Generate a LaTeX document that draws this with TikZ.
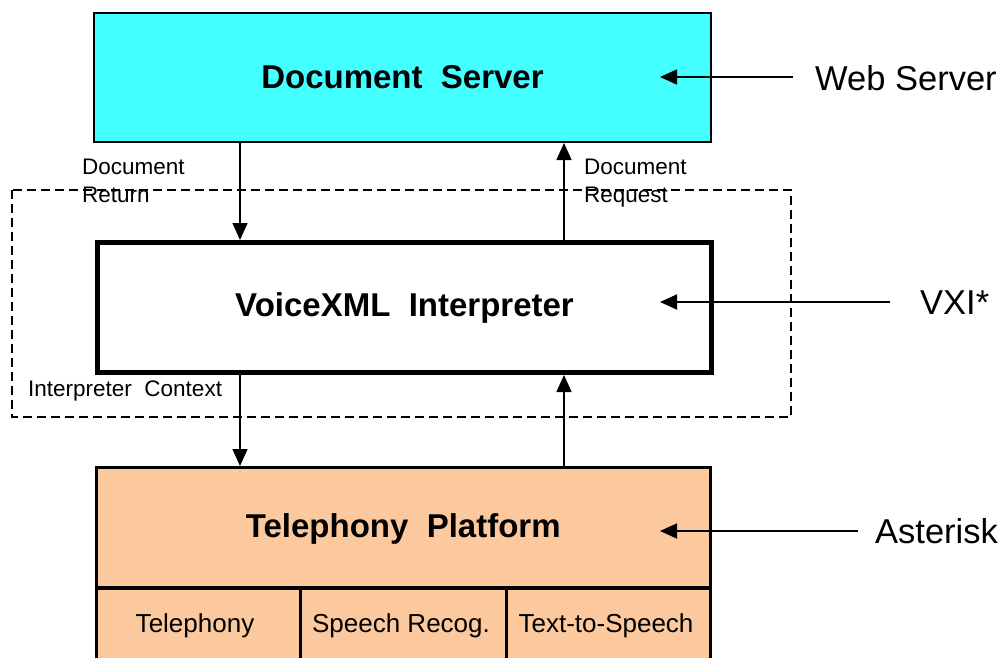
\documentclass[tikz,border=0pt]{standalone}
\usepackage{fontspec}
\setmainfont{Liberation Sans}
\usetikzlibrary{arrows.meta}
\definecolor{dscyan}{RGB}{68,255,255}
\definecolor{peach}{RGB}{251,201,157}
\begin{document}
\begin{tikzpicture}[x=1pt,y=-1pt,
  box/.style={draw=black,rectangle,inner sep=0pt,anchor=north west},
  title/.style={font=\fontsize{33}{38}\selectfont\bfseries},
  side/.style={font=\fontsize{34.5}{38}\selectfont,anchor=west,inner sep=0pt},
  small/.style={font=\fontsize{22.5}{28}\selectfont,anchor=north west,inner sep=0pt,align=left},
  cell/.style={font=\fontsize{26}{28}\selectfont,inner sep=0pt},
  arr/.style={line width=1.5pt,-{Triangle[width=15pt,length=17pt]}},
  sarr/.style={line width=1.8pt,-{Triangle[width=15pt,length=17pt]}}]
\useasboundingbox (0,0) rectangle (999,657);
\clip (0,0) rectangle (999,657);
% dashed interpreter context
\draw[line width=1.5pt,dash pattern=on 9pt off 5pt] (12,190) rectangle (791,417);
% boxes
\node[box,fill=dscyan,line width=2pt,minimum width=617pt,minimum height=129pt] (ds) at (93,12) {};
\node[title] at (ds.center) {Document\ \ Server};
\node[box,fill=white,line width=5pt,minimum width=614pt,minimum height=130pt] (vx) at (95,240) {};
\node[title] at (vx.center) {VoiceXML\ \ Interpreter};
\node[box,fill=peach,line width=2.5pt,minimum width=614pt,minimum height=120pt] (tp) at (95,466) {};
\node[title] at ([yshift=-2pt]tp.center) {Telephony\ \ Platform};
\node[box,fill=peach,line width=2.5pt,minimum width=204pt,minimum height=90pt] (c1) at (95,586) {};
\node[box,fill=peach,line width=2.5pt,minimum width=206pt,minimum height=90pt] (c2) at (299,586) {};
\node[box,fill=peach,line width=2.5pt,minimum width=204pt,minimum height=90pt] (c3) at (505,586) {};
\draw[line width=3pt] (tp.south west) -- (tp.south east);
\node[cell] (t1) at (195,626) {Telephony};
\node[cell] (t2) at (401,626) {Speech Recog.};
\node[cell] (t3) at (606,626) {Text-to-Speech};
% vertical arrows
\draw[arr] (ds.south -| 240,0) -- (vx.north -| 240,0);
\draw[arr] (vx.north -| 564,0) -- (ds.south -| 564,0);
\draw[arr] (vx.south -| 240,0) -- (tp.north -| 240,0);
\draw[arr] (tp.north -| 564,0) -- (vx.south -| 564,0);
% small labels
\node[small] (l1) at (82,159) {Document\\Return};
\node[small] (l2) at (584,159) {Document\\Request};
\node[small] (l3) at (28,381) {Interpreter\ \ Context};
% side labels
\node[side] (ws) at (815,78) {Web Server};
\node[side] (vxi) at (920,303) {VXI*};
\node[side] (ast) at (875,531) {Asterisk};
\coordinate (wsa) at (793,77);
\coordinate (vxa) at (890,302);
\coordinate (asa) at (858,531);
\coordinate (wsh) at (660,77);
\coordinate (vxh) at (660,302);
\coordinate (ash) at (660,531);
\draw[sarr] (wsa) -- (wsh);
\draw[sarr] (vxa) -- (vxh);
\draw[sarr] (asa) -- (ash);
\end{tikzpicture}
\end{document}
